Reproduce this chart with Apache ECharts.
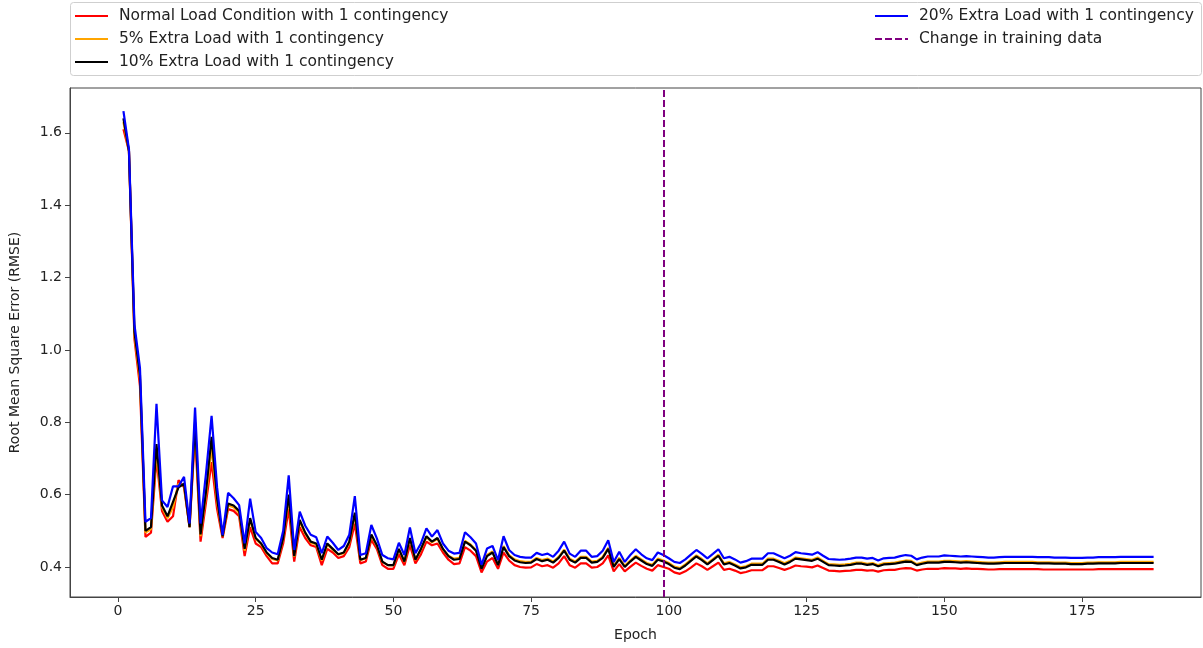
<!DOCTYPE html>
<html>
<head>
<meta charset="utf-8">
<script src="https://cdn.jsdelivr.net/npm/echarts@6/dist/echarts.min.js"></script>
<style>html,body{margin:0;padding:0;background:#fff}#c{width:1203px;height:648px}</style>
</head>
<body>
<div id="c"></div>
<script>
const seriesNames = [
  'Normal Load Condition with 1 contingency',
  '5% Extra Load with 1 contingency',
  '10% Extra Load with 1 contingency',
  '20% Extra Load with 1 contingency',
  'Change in training data'
];
const changeEpoch = 99;
const xTicks = [0, 25, 50, 75, 100, 125, 150, 175];
const yTicks = [0.4, 0.6, 0.8, 1.0, 1.2, 1.4, 1.6];

const rmseNormal = [
1.61,1.55,1.03,0.90,0.483,0.495,0.70,0.555,0.525,0.54,
0.64,0.62,0.51,0.77,0.47,0.58,0.69,0.56,0.48,0.56,
0.555,0.54,0.43,0.51,0.465,0.455,0.43,0.41,0.41,0.465,
0.56,0.415,0.51,0.48,0.46,0.455,0.405,0.45,0.44,0.425,
0.43,0.455,0.52,0.41,0.415,0.475,0.45,0.405,0.395,0.395,
0.435,0.405,0.46,0.41,0.435,0.47,0.46,0.465,0.44,0.42,
0.408,0.41,0.455,0.445,0.43,0.385,0.415,0.425,0.395,0.44,
0.418,0.405,0.40,0.398,0.399,0.408,0.402,0.405,0.398,0.41,
0.43,0.405,0.398,0.41,0.41,0.398,0.40,0.41,0.432,0.388,
0.408,0.388,0.40,0.412,0.403,0.395,0.39,0.405,0.40,0.395,
0.385,0.381,0.388,0.398,0.41,0.402,0.392,0.402,0.412,0.392,
0.395,0.39,0.383,0.386,0.391,0.391,0.391,0.402,0.402,0.397,
0.392,0.397,0.404,0.402,0.401,0.399,0.404,0.397,0.39,0.389,
0.388,0.389,0.39,0.392,0.392,0.39,0.391,0.387,0.391,0.392,
0.392,0.395,0.397,0.396,0.39,0.393,0.395,0.395,0.395,0.397,
0.396,0.396,0.395,0.396,0.395,0.395,0.394,0.393,0.393,0.394,
0.394,0.394,0.394,0.394,0.394,0.394,0.394,0.393,0.393,0.393,
0.393,0.393,0.393,0.393,0.393,0.393,0.393,0.394,0.394,0.394,
0.394,0.394,0.394,0.394,0.394,0.394,0.394,0.394
];
const rmseExtra5 = [
1.63,1.55,1.04,0.92,0.495,0.505,0.72,0.565,0.535,0.565,
0.63,0.625,0.51,0.79,0.485,0.60,0.73,0.58,0.485,0.57,
0.565,0.55,0.445,0.53,0.478,0.463,0.438,0.422,0.418,0.478,
0.59,0.428,0.525,0.492,0.468,0.462,0.418,0.462,0.448,0.434,
0.438,0.467,0.545,0.419,0.424,0.487,0.458,0.414,0.405,0.404,
0.448,0.414,0.478,0.419,0.448,0.483,0.468,0.478,0.449,0.431,
0.423,0.425,0.472,0.462,0.447,0.398,0.433,0.443,0.408,0.458,
0.433,0.421,0.416,0.414,0.415,0.425,0.419,0.423,0.415,0.428,
0.448,0.423,0.415,0.428,0.428,0.415,0.417,0.428,0.453,0.403,
0.425,0.403,0.418,0.431,0.421,0.411,0.406,0.423,0.418,0.411,
0.401,0.397,0.407,0.42,0.432,0.422,0.41,0.422,0.434,0.41,
0.414,0.407,0.399,0.402,0.409,0.409,0.409,0.423,0.423,0.417,
0.41,0.417,0.426,0.424,0.422,0.42,0.426,0.417,0.408,0.407,
0.406,0.407,0.409,0.412,0.412,0.409,0.411,0.405,0.41,0.411,
0.412,0.415,0.418,0.417,0.408,0.412,0.415,0.415,0.415,0.417,
0.417,0.416,0.415,0.416,0.415,0.414,0.413,0.412,0.412,0.413,
0.414,0.414,0.414,0.414,0.414,0.414,0.413,0.413,0.413,0.412,
0.412,0.412,0.411,0.411,0.411,0.412,0.412,0.413,0.413,0.413,
0.413,0.414,0.414,0.414,0.414,0.414,0.414,0.414
];
const rmseExtra10 = [
1.64,1.55,1.05,0.93,0.50,0.51,0.74,0.57,0.54,0.58,
0.62,0.63,0.51,0.80,0.49,0.61,0.76,0.59,0.485,0.575,
0.57,0.555,0.45,0.535,0.48,0.465,0.44,0.425,0.42,0.48,
0.60,0.43,0.53,0.495,0.47,0.465,0.42,0.465,0.45,0.435,
0.44,0.47,0.55,0.42,0.425,0.49,0.46,0.415,0.405,0.405,
0.45,0.415,0.48,0.42,0.45,0.485,0.47,0.48,0.45,0.43,
0.42,0.422,0.47,0.46,0.445,0.395,0.43,0.44,0.405,0.455,
0.43,0.418,0.413,0.411,0.412,0.422,0.416,0.42,0.412,0.425,
0.445,0.42,0.412,0.425,0.425,0.412,0.414,0.425,0.45,0.40,
0.422,0.40,0.415,0.428,0.418,0.408,0.403,0.42,0.415,0.408,
0.398,0.394,0.404,0.417,0.429,0.419,0.407,0.419,0.431,0.407,
0.411,0.404,0.396,0.399,0.406,0.406,0.406,0.42,0.42,0.414,
0.407,0.414,0.423,0.421,0.419,0.417,0.423,0.414,0.405,0.404,
0.403,0.404,0.406,0.409,0.409,0.406,0.408,0.402,0.407,0.408,
0.409,0.412,0.415,0.414,0.405,0.409,0.412,0.412,0.412,0.414,
0.414,0.413,0.412,0.413,0.412,0.411,0.41,0.409,0.409,0.41,
0.411,0.411,0.411,0.411,0.411,0.411,0.41,0.41,0.41,0.409,
0.409,0.409,0.408,0.408,0.408,0.409,0.409,0.41,0.41,0.41,
0.41,0.411,0.411,0.411,0.411,0.411,0.411,0.411
];
const rmseExtra20 = [
1.66,1.555,1.07,0.95,0.525,0.535,0.851,0.584,0.566,0.623,
0.623,0.649,0.52,0.841,0.52,0.66,0.818,0.62,0.488,0.605,
0.59,0.571,0.465,0.589,0.497,0.48,0.452,0.44,0.435,0.50,
0.653,0.447,0.553,0.514,0.489,0.482,0.438,0.484,0.467,0.447,
0.458,0.489,0.596,0.433,0.438,0.516,0.479,0.433,0.424,0.421,
0.467,0.433,0.509,0.438,0.465,0.507,0.484,0.502,0.465,0.445,
0.437,0.439,0.496,0.482,0.465,0.406,0.451,0.458,0.419,0.485,
0.447,0.433,0.428,0.426,0.426,0.439,0.433,0.437,0.428,0.445,
0.470,0.437,0.428,0.445,0.445,0.428,0.43,0.445,0.474,0.414,
0.442,0.414,0.433,0.449,0.435,0.424,0.419,0.44,0.433,0.424,
0.414,0.411,0.421,0.434,0.447,0.436,0.424,0.436,0.449,0.424,
0.428,0.421,0.412,0.416,0.423,0.423,0.423,0.438,0.438,0.431,
0.424,0.431,0.441,0.438,0.436,0.434,0.441,0.431,0.422,0.421,
0.42,0.421,0.423,0.426,0.426,0.423,0.425,0.418,0.424,0.425,
0.426,0.43,0.433,0.431,0.421,0.426,0.429,0.429,0.429,0.432,
0.431,0.43,0.429,0.43,0.429,0.428,0.427,0.426,0.426,0.427,
0.428,0.428,0.428,0.428,0.428,0.428,0.427,0.427,0.427,0.426,
0.426,0.426,0.425,0.425,0.425,0.426,0.426,0.427,0.427,0.427,
0.427,0.428,0.428,0.428,0.428,0.428,0.428,0.428
];

const FONT = 'DejaVu Sans';
function pairs(arr) { return arr.map((v, i) => [i + 1, v]); }

const chart = echarts.init(document.getElementById('c'), null, { renderer: 'canvas' });

function lineSeries(name, arr, color) {
  return {
    name: name, type: 'line', data: pairs(arr),
    symbol: 'none', showSymbol: false, smooth: false,
    lineStyle: { color: color, width: 2.2 }, itemStyle: { color: color },
    animation: false, z: 2
  };
}

const legendText = { fontFamily: FONT, fontSize: 15.5, color: '#222', padding: [0, 0, 0, 6] };
const legendCommon = {
  orient: 'vertical', top: 8, itemWidth: 33, itemHeight: 14, itemGap: 7,
  textStyle: legendText, padding: 0, selectedMode: false,
  itemStyle: { color: 'rgba(0,0,0,0)', borderWidth: 0, opacity: 0 }
};

chart.setOption({
  backgroundColor: '#fff',
  animation: false,
  textStyle: { fontFamily: FONT },
  graphic: [{
    type: 'rect', left: 70, top: 2, z: -1, silent: true,
    shape: { width: 1131, height: 73, r: 3 },
    style: { fill: '#fff', stroke: '#cfcfcf', lineWidth: 1 }
  }],
  legend: [
    Object.assign({ data: seriesNames.slice(0, 3), left: 74 }, legendCommon),
    Object.assign({ data: seriesNames.slice(3), left: 874 }, legendCommon)
  ],
  grid: { left: 70, right: 2, top: 88, bottom: 51, show: true, borderColor: '#444', borderWidth: 1, containLabel: false },
  xAxis: {
    type: 'value', min: -8.7, max: 196.6,
    name: 'Epoch', nameLocation: 'middle', nameGap: 31,
    nameTextStyle: { fontFamily: FONT, fontSize: 14, color: '#222' },
    axisLine: { show: true, onZero: false, lineStyle: { color: '#444', width: 1 } },
    axisTick: { show: true, length: 5, inside: false, customValues: xTicks, lineStyle: { color: '#444' } },
    axisLabel: { customValues: xTicks, fontFamily: FONT, fontSize: 14, color: '#222', margin: 7, formatter: v => String(v) },
    splitLine: { show: false }
  },
  yAxis: {
    type: 'value', min: 0.317, max: 1.724,
    name: 'Root Mean Square Error (RMSE)', nameLocation: 'middle', nameGap: 48, nameRotate: 90,
    nameTextStyle: { fontFamily: FONT, fontSize: 14, color: '#222' },
    axisLine: { show: true, onZero: false, lineStyle: { color: '#444', width: 1 } },
    axisTick: { show: true, length: 5, inside: false, customValues: yTicks, lineStyle: { color: '#444' } },
    axisLabel: { customValues: yTicks, fontFamily: FONT, fontSize: 14, color: '#222', margin: 8, formatter: v => v.toFixed(1) },
    splitLine: { show: false }
  },
  series: [
    lineSeries(seriesNames[0], rmseNormal, '#ff0000'),
    lineSeries(seriesNames[1], rmseExtra5, '#ffa500'),
    lineSeries(seriesNames[2], rmseExtra10, '#000000'),
    lineSeries(seriesNames[3], rmseExtra20, '#0000ff'),
    {
      name: seriesNames[4], type: 'line', data: [],
      symbol: 'none',
      lineStyle: { color: '#800080', width: 2, type: [7, 3] },
      itemStyle: { color: '#800080' },
      markLine: {
        silent: true, symbol: ['none', 'none'], label: { show: false },
        lineStyle: { color: '#800080', width: 2, type: [7, 3] },
        data: [{ xAxis: changeEpoch }]
      }
    }
  ]
});
</script>
</body>
</html>
